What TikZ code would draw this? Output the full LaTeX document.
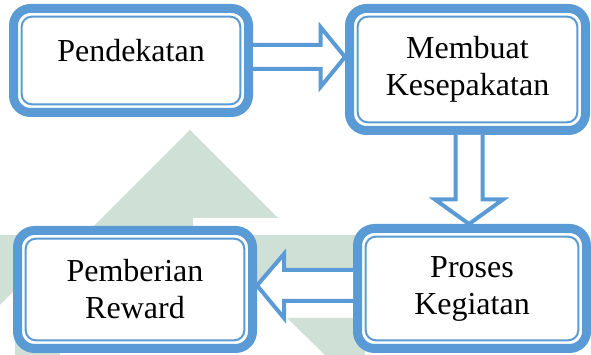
\documentclass[tikz,border=0pt]{standalone}
\usepackage{fontspec}
\setmainfont{Liberation Serif}
\definecolor{boxblue}{RGB}{91,155,213}
\definecolor{wmgreen}{RGB}{207,224,215}

\begin{document}
\begin{tikzpicture}[x=1pt, y=1pt,
    box/.style={draw=boxblue, line width=9pt, fill=white, rounded corners=17pt,
      align=center, inner sep=2pt, font=\fontsize{32}{37}\selectfont},
    flow/.style={draw=boxblue, line width=4pt, fill=white, line join=miter}]
      \useasboundingbox (0,0) rectangle (591,355);

      % Watermark
      \fill[wmgreen] (190,225) -- (278,137) -- (193,137) -- (193,120) -- (85,120) -- cycle;
      \fill[wmgreen] (0,120) -- (360,120) -- (360,65) -- (15,65) -- (0,50) -- cycle;
      \fill[wmgreen] (287,37) -- (365,37) -- (365,0) -- (325,0) -- cycle;
      \fill[wmgreen] (15,20) rectangle (60,0);

      % Boxes
      \node[box, minimum width=235pt, minimum height=104pt, text depth=20pt] (pend) at (131,294.5) {Pendekatan};
      \node[box, minimum width=236pt, minimum height=122pt] (memb) at (467.5,285.5) {Membuat\\Kesepakatan};
      \node[box, minimum width=229pt, minimum height=120pt] (pros) at (472,66.5) {Proses\\Kegiatan};
      \node[box, minimum width=235pt, minimum height=118pt] (pemb) at (135,65.5) {Pemberian\\Reward};

      % Inner lines
      \foreach \n in {pend,memb,pros,pemb} {
        \draw[boxblue, line width=2pt, rounded corners=10pt]
          ([shift={(12.7pt,-12.7pt)}]\n.north west) rectangle ([shift={(-12.7pt,12.7pt)}]\n.south east);
      }

      % Block arrows
      \draw[flow] (pend.east |- 0,310) -- (320.5,310) -- (320.5,328) -- (memb.west |- 0,298)
        -- (320.5,268) -- (320.5,286) -- (pend.east |- 0,286);
      \draw[flow] (455.5,0 |- memb.south) -- (455.5,155.5) -- (435,155.5) -- (469,0 |- pros.north)
        -- (503,155.5) -- (482.5,155.5) -- (482.5,0 |- memb.south);
      \draw[flow] (pros.west |- 0,85) -- (284,85) -- (284,101) -- (pemb.east |- 0,69.5)
        -- (284,37) -- (284,54) -- (pros.west |- 0,54);
    \end{tikzpicture}
\end{document}
